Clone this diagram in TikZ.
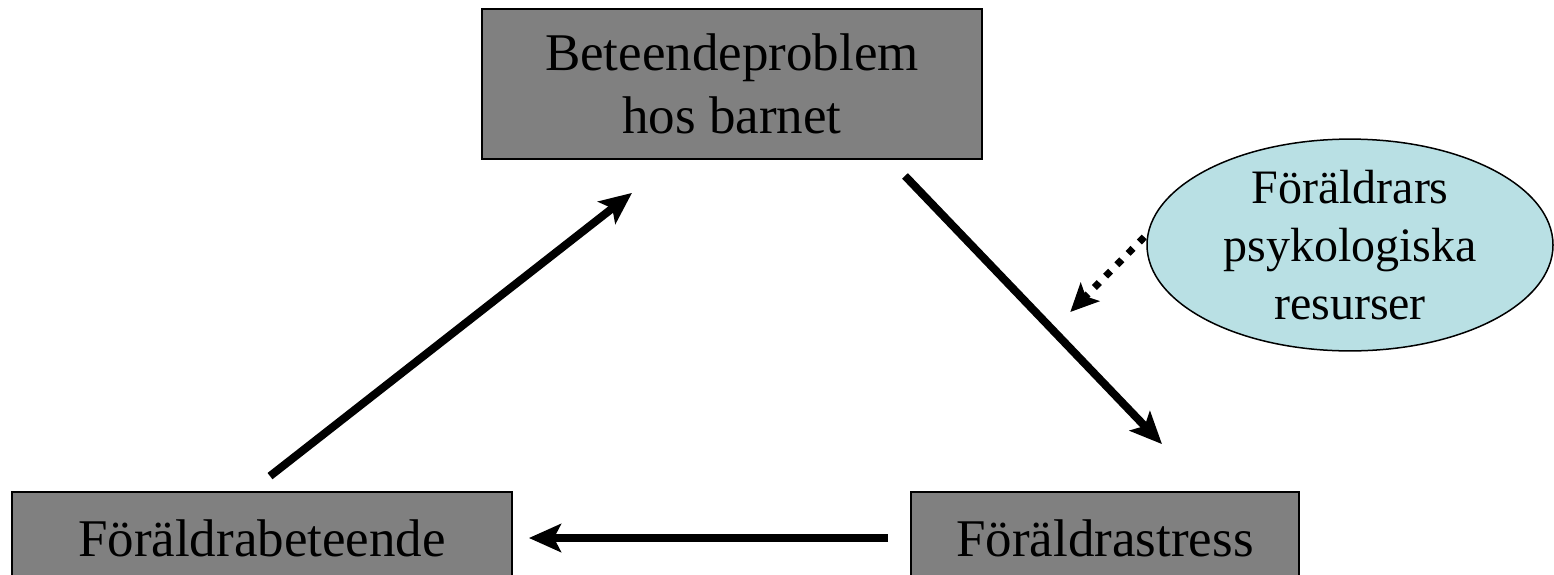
\documentclass[tikz,border=0pt]{standalone}
\usepackage{fontspec}
\setmainfont{Liberation Serif}
\usetikzlibrary{arrows.meta,shapes.geometric,positioning}
\definecolor{boxgray}{RGB}{128,128,128}
\definecolor{resblue}{RGB}{185,224,228}

\begin{document}
\begin{tikzpicture}
[x=1pt, y=-1pt, ->, >={Stealth[length=32pt,width=28pt,inset=7pt]},
box/.style={draw=black, line width=1.8pt, fill=boxgray, inner sep=0pt, align=center,
  font=\fontsize{53}{63}\selectfont},
res/.style={ellipse, draw=black, line width=1.5pt, fill=resblue, inner sep=0pt, align=center,
  minimum width=406pt, minimum height=160pt, font=\fontsize{48}{58}\selectfont},
link/.style={line width=8pt},
hint/.style={line width=7pt, dash pattern=on 7pt off 9pt,
  -{Stealth[length=28pt,width=26pt,inset=6pt]}}
]
  \useasboundingbox (0,0) rectangle (1554,574);
  \clip (0,0) rectangle (1554,574);

  \node[box, minimum width=500pt, minimum height=150pt] (child)  at (732,84)   {Beteendeproblem\\hos barnet};
  \node[box, minimum width=500pt, minimum height=92pt]  (behave) at (262,538)  {Föräldrabeteende};
  \node[box, minimum width=388pt, minimum height=92pt]  (stress) at (1105,538) {Föräldrastress};
  \node[res] (resources) at (1350,245) {Föräldrars\\psykologiska\\resurser};

  \coordinate (target) at ([shift={(-76,67)}]resources.west);

  \draw[link] ([shift={(173,16)}]child.south)   -- ([shift={(57,-47)}]stress.north);
  \draw[link] ([xshift=-22pt]stress.west)        -- ([xshift=16pt]behave.east);
  \draw[link] ([shift={(8,-15)}]behave.north)   -- ([shift={(-100,33)}]child.south);
  \draw[hint] ([shift={(-2,-8)}]resources.west) -- (target);
\end{tikzpicture}
\end{document}
